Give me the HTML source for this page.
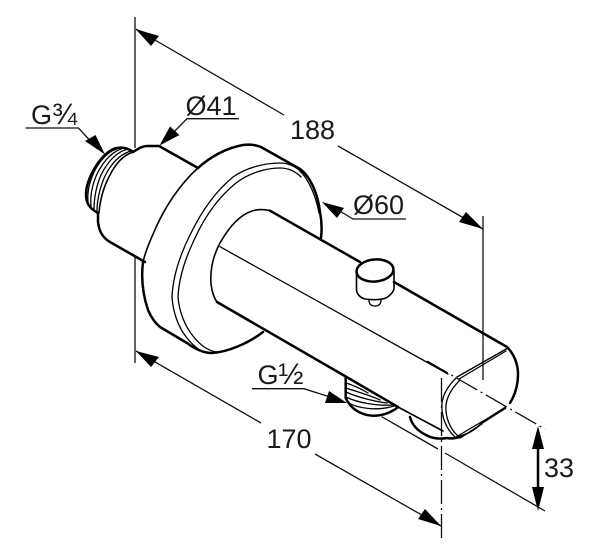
<!DOCTYPE html>
<html>
<head>
<meta charset="utf-8">
<style>
html,body{margin:0;padding:0;background:#fff;width:600px;height:546px;overflow:hidden}
svg{display:block}
text{font-family:"Liberation Sans",sans-serif;font-size:27px;fill:#1a1a1a}
.f{font-size:30px}
.k{fill:none;stroke:#000;stroke-width:2.5;stroke-linecap:round;stroke-linejoin:round}
.m{fill:none;stroke:#000;stroke-width:1.6;stroke-linecap:round;stroke-linejoin:round}
.t{fill:none;stroke:#000;stroke-width:1.3;stroke-linecap:round;stroke-linejoin:round}
.d{fill:none;stroke:#111;stroke-width:1.3}
.c{fill:none;stroke:#111;stroke-width:1.3;stroke-dasharray:24 4 2 4}
.a{fill:#000;stroke:none}
</style>
</head>
<body>
<svg width="600" height="546" viewBox="0 0 600 546" xmlns="http://www.w3.org/2000/svg">
<!-- extension lines -->
<path class="d" d="M135 17V148M135 257V363M483 216V380"/>
<!-- centre lines -->
<path class="c" d="M427 361L545 429"/>
<path class="c" d="M441.500 378V539"/>
<path class="d" d="M381.700 416.700L438 449M445 453L545 511"/>
<!-- dimension 188 -->
<path class="d" d="M136 29L284 115M338 146L483 229"/>
<path class="a" d="M135.500 29L159 36L151 46Z"/>
<path class="a" d="M483 229L459 222L466 212Z"/>
<text x="290" y="139">188</text>
<!-- dimension 170 -->
<path class="d" d="M136 351L261 423M315 454L441 526"/>
<path class="a" d="M136 351L159 357L151 367Z"/>
<path class="a" d="M441 526L418 519L425 509Z"/>
<text x="266.500" y="448">170</text>
<!-- dimension 33 -->
<path class="k" d="M538 436V500"/>
<path class="a" d="M538 426L544 449H532Z"/>
<path class="a" d="M538 511L532 487H544Z"/>
<text x="544" y="477">33</text>
<!-- labels -->
<text x="31" y="124">G<tspan class="f">¾</tspan></text>
<path class="d" d="M25.500 128H78.500L95 146"/>
<path class="a" d="M105 154.500L85 141L95.500 135Z"/>
<text x="185.500" y="115">Ø41</text>
<path class="d" d="M239 118.700H187L170 136"/>
<path class="a" d="M159.500 145.500L170 126.500L179.500 135Z"/>
<text x="353" y="214">Ø60</text>
<path class="d" d="M406 219H353L338 210"/>
<path class="a" d="M322 202L344 208L337 218Z"/>
<text x="257.500" y="384">G<tspan class="f">½</tspan></text>
<path class="d" d="M252 388.700H304L330 397"/>
<path class="a" d="M347 403L325 403L329 391Z"/>
<!-- thread left -->
<path class="k" d="M133 152C128 148 122 147 117 148C110 149 104 155 98 163C91 173 86 185 86 194C86 203 89 208 98 213"/>
<path class="m" d="M133 152C124 155 116 163 110 175C104 186 100 200 99 213"/>
<path class="t" d="M128 149C116 152 107 163 101 175C97 184 94 197 94 209"/>
<path class="t" d="M124 148C112 151 103 162 97 174C93 183 90 195 91 206"/>
<path class="t" d="M131 151C120 154 112 163 106 174C101 184 97 198 97 211"/>
<path class="t" d="M120 148C109 150 100 160 94 172C90 181 87 192 88 202"/>
<!-- collar -->
<path class="k" d="M133 152C138 149 142 146 147 146H159L198 168"/>
<path class="k" d="M98 213V222C99 231 103 238 110 242L145 262"/>
<path class="m" d="M198 168C180 184 164 208 154 232C149 243 145 253 143 262"/>
<!-- back disc -->
<path class="k" d="M198 168C210 157 226 148 243 145C250 144 256 145 261 147L300 169C311 177 318 195 320 212C322 222 322 230 321 238"/>
<path class="k" d="M143 262C141 278 143 295 148 310C151 317 155 323 160 327L187 343C195 349 203 353 212 353C228 352 249 343 263 332"/>
<!-- double ring -->
<path class="t" d="M172 297C173 275 180 255 190 235C202 210 216 191 233 177C247 167 266 163 280 163C287 163 293 165 299 170C309 179 316 197 319 213"/>
<path class="t" d="M178 297C179 276 186 257 195 238C206 214 220 196 236 183C249 173 266 168 280 168C288 168 295 171 301 177"/>
<path class="t" d="M172 297C173 312 178 327 187 338C195 348 203 353 210 353"/>
<path class="t" d="M178 297C179 310 184 325 193 336C200 345 208 351 217 352"/>
<!-- opening curve -->
<path class="m" d="M270 210.700C263 209 258 209 252 211C240 215 229 227 220 243C213 256 210 270 211 284C212 292 214 298 217 302"/>
<!-- bar edges -->
<path class="k" d="M270 210.700L360 262"/>
<path class="k" d="M394 282L507 347"/>
<path class="k" d="M217 302L345.700 376.500"/>
<path class="k" d="M345.700 376.500L398 407"/>
<path class="m" d="M398 407L443 431"/>
<path class="t" d="M220 246.700L448 374"/>
<!-- end cap -->
<path class="k" d="M507 347C514 354 518 364 518 374C518 385 515 395 510 403"/>
<path class="k" d="M505 408L483 422"/>
<path class="t" d="M508 348L457 377M506 351L459 379"/>
<path class="t" d="M483 421L456 437M482 424L460 438"/>
<path class="m" d="M483 422C475 430 465 436 453 438"/>
<path class="t" d="M456 378C448 386 443 395 442 403C441 416 446 429 455 437"/>
<path class="t" d="M460 380C452 388 447 397 446 405C445 417 450 429 458 436"/>
<!-- knob -->
<ellipse class="k" cx="375" cy="270.500" rx="18.500" ry="11" transform="rotate(-5 375 270.500)"/>
<path class="m" d="M356.500 274V290C357 295 361 298 365 299C372 300 381 300 386 298C391 295 394 291 394 288V271"/>
<path class="t" d="M369 300C369 305 372 306 375 306C378 306 381 305 381 300"/>
<!-- lower fitting -->
<path class="k" d="M345.700 378V398C349 405 354 410 361 413C370 417 380 416 388 413C392 411 395 410 398 407"/>
<path class="t" d="M346 383C356 386 363 390 368 393M346 388C358 392 372 396 380 400M346 392C359 398 378 402 387 403M346 397C358 403 378 406 392 405M347 402C358 409 378 411 394 406"/>
<!-- lower round -->
<path class="k" d="M410 417C412 425 418 431 426 435C433 439 441 439 447 438C452 439 458 438 462 436"/>
</svg>
</body>
</html>
